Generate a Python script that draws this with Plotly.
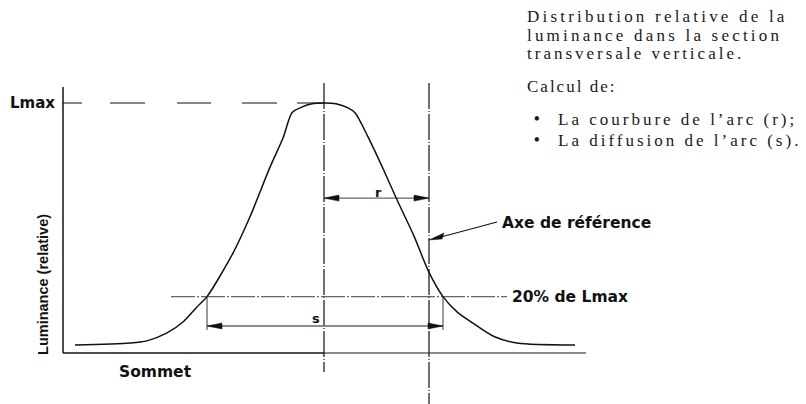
import plotly.graph_objects as go

# luminance profile across the vertical section (position relative to the summit axis)
position = [-249, -194, -177, -157, -141, -127, -117, -91, -74, -54, -41, -32, -24, -12, 0,
            12, 24, 31, 44, 60, 73, 90, 105, 119, 133, 149, 170, 193, 251]
luminance = [0.0, 0.008, 0.017, 0.05, 0.095, 0.157, 0.2, 0.38, 0.53, 0.735, 0.855, 0.96, 0.98, 0.997, 1.0,
             0.997, 0.98, 0.96, 0.86, 0.72, 0.60, 0.45, 0.30, 0.2, 0.137, 0.09, 0.035, 0.008, 0.0]

# construction values
level_20 = 0.2              # 20% de Lmax
ref_axis = 105              # axe de référence
s_left, s_right = -117, 119  # diffusion (s)
r_level = 0.607             # cote r
s_level = 0.0785            # cote s
axis_x0, axis_x1 = -261, 262
base_l = -0.033

notes = ["Distribution relative de la", "luminance dans la section",
         "transversale verticale.", "Calcul de:"]
bullets = ["La courbure de l\u2019arc (r);", "La diffusion de l\u2019arc (s)."]

BLACK = "#111111"
GREY = "#666666"
PX_L = 1 / 242.0  # one pixel in luminance units
OFF = 8           # page body margin around the plot div

fig = go.Figure()


def seg(x, y, color=BLACK, width=1.3, dash="solid"):
    fig.add_trace(go.Scatter(x=x, y=y, mode="lines", hoverinfo="skip",
                             line=dict(color=color, width=width, dash=dash)))


def head(tip_x, tip_y, direction):
    # filled arrowhead, 15 px long, 6 px wide
    bx = tip_x - direction * 15
    fig.add_trace(go.Scatter(x=[tip_x, bx, bx, tip_x], y=[tip_y, tip_y + 3 * PX_L, tip_y - 3 * PX_L, tip_y],
                             mode="lines", fill="toself", fillcolor=BLACK, hoverinfo="skip",
                             line=dict(color=BLACK, width=0.5)))


# axes of the sketch
seg([axis_x0, axis_x0], [base_l, 1.066], width=1.5)
seg([axis_x0, 0], [base_l, base_l], width=1.5)
seg([0, axis_x1], [base_l, base_l], color=GREY, width=1.3)

# Lmax level
seg([axis_x0, 0], [1.0, 1.0], width=1.1, dash="19px,28px,35px,32px,34px,31px,35px,20px,28px")

# summit axis and reference axis
seg([0, 0], [1.083, -0.112], width=1.2, dash="26px,2px,1px,2px")
seg([ref_axis, ref_axis], [1.083, -0.26], width=1.2, dash="26px,2px,1px,2px")

# 20% level
seg([-153, 183], [level_20, level_20], color=GREY, width=1.3, dash="24px,2px,2px,2px")

# s dimension
seg([s_left, s_left], [level_20, 0.062], color=GREY, width=1.3)
seg([s_right, s_right], [level_20, 0.062], color=GREY, width=1.3)
seg([s_left, s_right], [s_level, s_level], color=GREY, width=1.3)
head(s_left, s_level, -1)
head(s_right, s_level, 1)

# r dimension
seg([0, ref_axis], [r_level, r_level], color=GREY, width=1.3)
head(0, r_level, -1)
head(ref_axis, r_level, 1)

# luminance curve
fig.add_trace(go.Scatter(x=position, y=luminance, mode="lines", hoverinfo="skip",
                         line=dict(color=BLACK, width=1.5, shape="spline", smoothing=0.8)))

# leader for the reference axis
seg([173, ref_axis + 12], [0.508, 0.434 + 3 * PX_L], width=1.1)
fig.add_trace(go.Scatter(x=[ref_axis, ref_axis + 15, ref_axis + 13, ref_axis],
                         y=[0.434, 0.434 + 7 * PX_L, 0.434 + 1 * PX_L, 0.434],
                         mode="lines", fill="toself", fillcolor=BLACK, hoverinfo="skip",
                         line=dict(color=BLACK, width=0.5)))

bold = dict(family="DejaVu Sans", size=15.5, color=BLACK)
ann = [
    dict(x=-267, y=1.0, text="<b>Lmax</b>", xanchor="right", font=dict(family="DejaVu Sans", size=15, color=BLACK)),
    dict(x=-169, y=-0.112, text="<b>Sommet</b>", xanchor="center", font=bold),
    dict(x=-281, y=0.248, text="<b>Luminance (relative)</b>", textangle=-90,
         font=dict(family="Liberation Sans", size=14.5, color=BLACK)),
    dict(x=176, y=0.504, text="<b>Axe de référence</b>", xanchor="left", font=bold),
    dict(x=186, y=level_20, text="<b>20% de Lmax</b>", xanchor="left", font=bold),
    dict(x=54, y=0.632, text="<b>r</b>", font=dict(family="DejaVu Sans", size=13, color=BLACK)),
    dict(x=-8, y=0.11, text="<b>s</b>", font=dict(family="DejaVu Sans", size=13, color=BLACK)),
]
for a in ann:
    a.update(xref="x", yref="y", showarrow=False, yanchor="middle")


def px(x):
    return (x - OFF) / 806


def py(y):
    return 1 - (y - OFF) / 404


serif = dict(family="Liberation Serif", size=17, color="#1a1a1a")
note_gap = [3.2, 3.2, 3.0, 2.0]
for t, y, g in zip(notes, [16, 35, 54, 87], note_gap):
    ann.append(dict(x=px(525), y=py(y), xref="paper", yref="paper", showarrow=False,
                    xanchor="left", yanchor="middle", font=serif,
                    text='<span style="letter-spacing:%.1fpx">%s</span>' % (g, t)))

# both bullets in one block (16 px font -> 21 px line pitch)
ann.append(dict(x=px(532), y=py(129.5), xref="paper", yref="paper", showarrow=False,
                xanchor="left", yanchor="middle",
                font=dict(family="Liberation Serif", size=16, color="#1a1a1a"),
                text="<br>".join("<b>\u2022</b>" for _ in bullets)))
for t, y in zip(bullets, [119, 140]):
    ann.append(dict(x=px(556), y=py(y), xref="paper", yref="paper", showarrow=False,
                    xanchor="left", yanchor="middle", font=serif,
                    text='<span style="letter-spacing:3.0px">%s</span>' % t))

fig.update_layout(
    width=806, height=404,
    margin=dict(l=0, r=0, t=0, b=0),
    paper_bgcolor="white", plot_bgcolor="white",
    showlegend=False,
    annotations=ann,
    xaxis=dict(range=[OFF - 324, 806 + OFF - 324], visible=False, fixedrange=True),
    yaxis=dict(range=[(345 - 404 - OFF) / 242, (345 - OFF) / 242], visible=False, fixedrange=True),
)

fig.write_html("out.html")
